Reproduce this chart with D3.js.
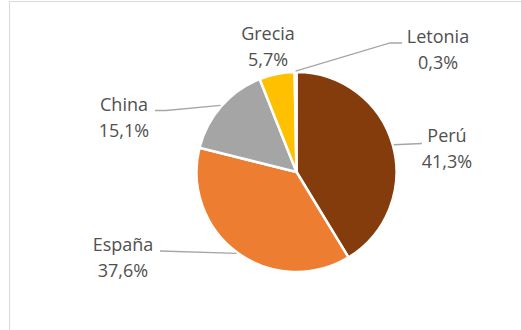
<!DOCTYPE html>
<html>
<head>
<meta charset="utf-8">
<script src="https://cdn.jsdelivr.net/npm/d3@7"></script>
<style>
  body { margin: 0; background: #fff; }
  svg { display: block; }
</style>
</head>
<body>
<svg id="chart" width="521" height="330"></svg>
<script>
// chart data
const countries = ['Perú', 'España', 'China', 'Grecia', 'Letonia'];
const shares = [41.3, 37.6, 15.1, 5.7, 0.3];
const shareLabels = ['41,3%', '37,6%', '15,1%', '5,7%', '0,3%'];
const colors = ['#843C0C', '#ED7D31', '#A5A5A5', '#FFC000', '#4472C4'];

// label layout: text centre x, first baseline y, leader y / elbow x / end x
const labelPos = [
  { x: 447, y: 142, ly: 143.5, ex: 422, lx: 422, withLine: true },
  { x: 123, y: 251, ly: 251, ex: 160, lx: 160, withLine: true },
  { x: 124, y: 111, ly: 110.5, ex: 166, lx: 155, withLine: true },
  { x: 268, y: 40, ly: 0, ex: 0, lx: 0, withLine: false },
  { x: 438, y: 43, ly: 43, ex: 390, lx: 402, withLine: true }
];

const cx = 296.5, cy = 172, radius = 100;

const svg = d3.select('#chart');

// chart frame
svg.append('rect')
  .attr('x', 9.5).attr('y', 1.5)
  .attr('width', 600).attr('height', 400)
  .attr('fill', 'none')
  .attr('stroke', '#D9D9D9')
  .attr('stroke-width', 1);

const pie = d3.pie().sort(null).value((d) => d);
const arcs = pie(shares);

const arc = d3.arc().innerRadius(0).outerRadius(radius);
const edge = d3.arc().innerRadius(radius + 1).outerRadius(radius + 1);

const g = svg.append('g').attr('transform', 'translate(' + cx + ',' + cy + ')');

g.selectAll('path.slice')
  .data(arcs)
  .enter()
  .append('path')
  .attr('class', 'slice')
  .attr('d', arc)
  .attr('fill', (d, i) => colors[i])
  .attr('stroke', '#fff')
  .attr('stroke-width', 2.5)
  .attr('stroke-linejoin', 'round');

// leader lines
arcs.forEach((d, i) => {
  const p = labelPos[i];
  if (!p.withLine) return;
  const [sx, sy] = edge.centroid(d);
  g.append('polyline')
    .attr('points', [
      [sx, sy],
      [p.ex - cx, p.ly - cy],
      [p.lx - cx, p.ly - cy]
    ].map((q) => q.join(',')).join(' '))
    .attr('fill', 'none')
    .attr('stroke', '#A6A6A6')
    .attr('stroke-width', 1.3);
});

// labels
const labels = svg.selectAll('text.lbl')
  .data(arcs)
  .enter()
  .append('text')
  .attr('class', 'lbl')
  .attr('text-anchor', 'middle')
  .attr('font-family', 'Open Sans, sans-serif')
  .attr('font-size', 18)
  .attr('fill', '#505050');

labels.append('tspan')
  .attr('x', (d, i) => labelPos[i].x)
  .attr('y', (d, i) => labelPos[i].y)
  .text((d, i) => countries[i]);

labels.append('tspan')
  .attr('x', (d, i) => labelPos[i].x)
  .attr('y', (d, i) => labelPos[i].y + 26)
  .text((d, i) => shareLabels[i]);
</script>
</body>
</html>
